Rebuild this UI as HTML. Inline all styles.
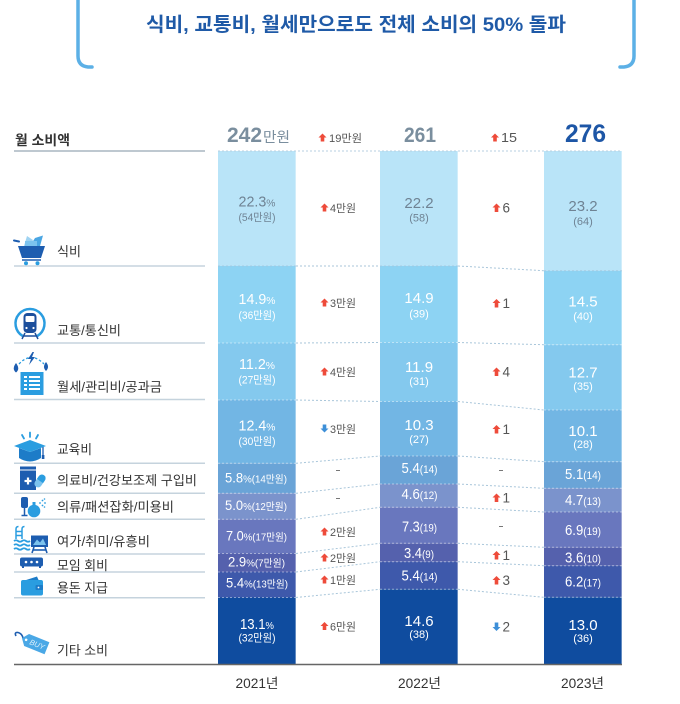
<!DOCTYPE html>
<html><head><meta charset="utf-8"><style>
html,body{margin:0;padding:0;background:#fff;}
svg{display:block;}
text{font-family:"Liberation Sans","Noto Sans CJK KR",sans-serif;}
.lbl{font-size:13px;fill:#333;}
.w{fill:#fff;}
.g{fill:#6f8394;}
.ind{font-size:11px;fill:#555;}
.ind2{font-size:13.5px;fill:#555;}
</style></head><body>
<svg width="680" height="704" viewBox="0 0 680 704" xmlns="http://www.w3.org/2000/svg">
<!-- bracket -->
<path d="M78,-2 V56 Q78,66 88,67 L92,67" fill="none" stroke="#5cb0e6" stroke-width="3.5" stroke-linecap="round"/>
<path d="M634,-2 V56 Q634,66 624,67 L620,67" fill="none" stroke="#5cb0e6" stroke-width="3.5" stroke-linecap="round"/>
<text x="356" y="31" text-anchor="middle" font-size="19.5" font-weight="bold" fill="#1f5aa7" textLength="420" lengthAdjust="spacingAndGlyphs">식비, 교통비, 월세만으로도 전체 소비의 50% 돌파</text>

<!-- header row -->
<text x="15" y="145" font-size="13.5" font-weight="bold" fill="#333" textLength="55" lengthAdjust="spacingAndGlyphs">월 소비액</text>
<text x="227" y="142" font-size="21" font-weight="bold" fill="#7a8e9e" textLength="35" lengthAdjust="spacingAndGlyphs">242</text>
<text x="263" y="142" font-size="14" fill="#7a8e9e" textLength="27" lengthAdjust="spacingAndGlyphs">만원</text>
<polygon points="322.5,133.5 326.5,137.5 324.3,137.5 324.3,141.5 320.7,141.5 320.7,137.5 318.5,137.5" fill="#ee4b3a"/>
<text x="329" y="142" font-size="11" fill="#555" textLength="33" lengthAdjust="spacingAndGlyphs">19만원</text>
<text x="420" y="142" text-anchor="middle" font-size="21" font-weight="bold" fill="#7a8e9e" textLength="32" lengthAdjust="spacingAndGlyphs">261</text>
<polygon points="495,133.5 499,137.5 496.8,137.5 496.8,141.5 493.2,141.5 493.2,137.5 491,137.5" fill="#ee4b3a"/>
<text x="501" y="142" font-size="12.5" fill="#555" textLength="16" lengthAdjust="spacingAndGlyphs">15</text>
<text x="585.5" y="142" text-anchor="middle" font-size="25" font-weight="bold" fill="#1d56a6" textLength="41" lengthAdjust="spacingAndGlyphs">276</text>

<!-- left separators -->
<g stroke="#c5d3dd" stroke-width="1.5">
<line x1="14" y1="151" x2="205" y2="151" stroke="#a9b6c0"/>
<line x1="14" y1="266" x2="205" y2="266"/>
<line x1="14" y1="343" x2="205" y2="343"/>
<line x1="14" y1="399.5" x2="205" y2="399.5"/>
<line x1="14" y1="463.3" x2="205" y2="463.3"/>
<line x1="14" y1="493.3" x2="205" y2="493.3"/>
<line x1="14" y1="519.2" x2="205" y2="519.2"/>
<line x1="14" y1="554" x2="205" y2="554"/>
<line x1="14" y1="572" x2="205" y2="572"/>
<line x1="14" y1="597.7" x2="205" y2="597.7"/>
</g>

<!-- column 1 -->
<g>
<rect x="218" y="151" width="78" height="115" fill="#b9e4f8"/>
<rect x="218" y="266" width="78" height="77" fill="#8dd3f3"/>
<rect x="218" y="343" width="78" height="57" fill="#84c9ee"/>
<rect x="218" y="400" width="78" height="63.3" fill="#72b6e4"/>
<rect x="218" y="463.3" width="78" height="30" fill="#6aa4d7"/>
<rect x="218" y="493.3" width="78" height="26" fill="#7b93cc"/>
<rect x="218" y="519.3" width="78" height="34.2" fill="#6977be"/>
<rect x="218" y="553.5" width="78" height="18.5" fill="#5561ad"/>
<rect x="218" y="572" width="78" height="25.5" fill="#3e59ab"/>
<rect x="218" y="597.5" width="78" height="66.5" fill="#0f4c9f"/>
</g>
<!-- column 2 -->
<g>
<rect x="380" y="151" width="78" height="115" fill="#b9e4f8"/>
<rect x="380" y="266" width="78" height="76.5" fill="#8dd3f3"/>
<rect x="380" y="342.5" width="78" height="59" fill="#84c9ee"/>
<rect x="380" y="401.5" width="78" height="54.5" fill="#72b6e4"/>
<rect x="380" y="456" width="78" height="28" fill="#6aa4d7"/>
<rect x="380" y="484" width="78" height="23.3" fill="#7b93cc"/>
<rect x="380" y="507.3" width="78" height="36" fill="#6977be"/>
<rect x="380" y="543.3" width="78" height="18.4" fill="#5561ad"/>
<rect x="380" y="561.7" width="78" height="27.6" fill="#3e59ab"/>
<rect x="380" y="589.3" width="78" height="74.7" fill="#0f4c9f"/>
</g>
<!-- column 3 -->
<g>
<rect x="544" y="151" width="78" height="119.7" fill="#b9e4f8"/>
<rect x="544" y="270.7" width="78" height="74" fill="#8dd3f3"/>
<rect x="544" y="344.7" width="78" height="65.3" fill="#84c9ee"/>
<rect x="544" y="410" width="78" height="51.7" fill="#72b6e4"/>
<rect x="544" y="461.7" width="78" height="26.6" fill="#6aa4d7"/>
<rect x="544" y="488.3" width="78" height="23.7" fill="#7b93cc"/>
<rect x="544" y="512" width="78" height="35.3" fill="#6977be"/>
<rect x="544" y="547.3" width="78" height="18.4" fill="#5561ad"/>
<rect x="544" y="565.7" width="78" height="31.6" fill="#3e59ab"/>
<rect x="544" y="597.3" width="78" height="66.7" fill="#0f4c9f"/>
</g>
<!-- column edge highlights -->
<g stroke="rgba(255,255,255,0.35)" stroke-width="1">
<line x1="295.5" y1="151" x2="295.5" y2="664"/>
<line x1="457.5" y1="151" x2="457.5" y2="664"/>
<line x1="621.5" y1="151" x2="621.5" y2="664"/>
</g>

<!-- dotted lines inside columns -->
<g stroke="rgba(255,255,255,0.45)" stroke-width="1" stroke-dasharray="2,2">
<line x1="218" y1="343" x2="296" y2="343"/><line x1="218" y1="400" x2="296" y2="400"/>
<line x1="218" y1="463.3" x2="296" y2="463.3"/><line x1="218" y1="493.3" x2="296" y2="493.3"/>
<line x1="218" y1="519.3" x2="296" y2="519.3"/><line x1="218" y1="553.5" x2="296" y2="553.5"/>
<line x1="218" y1="572" x2="296" y2="572"/><line x1="218" y1="597.5" x2="296" y2="597.5"/>
<line x1="380" y1="342.5" x2="458" y2="342.5"/><line x1="380" y1="401.5" x2="458" y2="401.5"/>
<line x1="380" y1="456" x2="458" y2="456"/><line x1="380" y1="484" x2="458" y2="484"/>
<line x1="380" y1="507.3" x2="458" y2="507.3"/><line x1="380" y1="543.3" x2="458" y2="543.3"/>
<line x1="380" y1="561.7" x2="458" y2="561.7"/><line x1="380" y1="589.3" x2="458" y2="589.3"/>
<line x1="544" y1="344.7" x2="622" y2="344.7"/><line x1="544" y1="410" x2="622" y2="410"/>
<line x1="544" y1="461.7" x2="622" y2="461.7"/><line x1="544" y1="488.3" x2="622" y2="488.3"/>
<line x1="544" y1="512" x2="622" y2="512"/><line x1="544" y1="547.3" x2="622" y2="547.3"/>
<line x1="544" y1="565.7" x2="622" y2="565.7"/><line x1="544" y1="597.3" x2="622" y2="597.3"/>
</g>
<g stroke="#b7cfe0" stroke-width="1" stroke-dasharray="2,2">
<line x1="218" y1="151" x2="622" y2="151"/>
<line x1="218" y1="266" x2="296" y2="266" stroke="rgba(160,195,220,0.7)"/>
<line x1="380" y1="266" x2="458" y2="266" stroke="rgba(160,195,220,0.7)"/>
<line x1="544" y1="270.7" x2="622" y2="270.7" stroke="rgba(160,195,220,0.7)"/>
</g>
<!-- connectors -->
<g stroke="#a9c6da" stroke-width="1" stroke-dasharray="2,2">
<line x1="296" y1="266" x2="380" y2="266"/>
<line x1="296" y1="343" x2="380" y2="342.5"/>
<line x1="296" y1="400" x2="380" y2="401.5"/>
<line x1="296" y1="463.3" x2="380" y2="456"/>
<line x1="296" y1="493.3" x2="380" y2="484"/>
<line x1="296" y1="519.3" x2="380" y2="507.3"/>
<line x1="296" y1="553.5" x2="380" y2="543.3"/>
<line x1="296" y1="572" x2="380" y2="561.7"/>
<line x1="296" y1="597.5" x2="380" y2="589.3"/>
<line x1="458" y1="266" x2="544" y2="270.7"/>
<line x1="458" y1="342.5" x2="544" y2="344.7"/>
<line x1="458" y1="401.5" x2="544" y2="410"/>
<line x1="458" y1="456" x2="544" y2="461.7"/>
<line x1="458" y1="484" x2="544" y2="488.3"/>
<line x1="458" y1="507.3" x2="544" y2="512"/>
<line x1="458" y1="543.3" x2="544" y2="547.3"/>
<line x1="458" y1="561.7" x2="544" y2="565.7"/>
<line x1="458" y1="589.3" x2="544" y2="597.3"/>
</g>

<!-- bottom axis line -->
<line x1="14" y1="664.5" x2="622" y2="664.5" stroke="#666" stroke-width="1.5"/>

<!-- column 1 texts -->
<g text-anchor="middle">
<text x="257" y="206.7" font-size="14.5" class="g" textLength="37" lengthAdjust="spacingAndGlyphs">22.3<tspan font-size="10.5">%</tspan></text>
<text x="257" y="221" font-size="11" class="g" textLength="37" lengthAdjust="spacingAndGlyphs">(54만원)</text>
<text x="257" y="304" font-size="14.5" class="w" textLength="37" lengthAdjust="spacingAndGlyphs">14.9<tspan font-size="10.5">%</tspan></text>
<text x="257" y="319" font-size="11" class="w" textLength="37" lengthAdjust="spacingAndGlyphs">(36만원)</text>
<text x="257" y="369" font-size="14.5" class="w" textLength="36" lengthAdjust="spacingAndGlyphs">11.2<tspan font-size="10.5">%</tspan></text>
<text x="257" y="383.5" font-size="11" class="w" textLength="37" lengthAdjust="spacingAndGlyphs">(27만원)</text>
<text x="257" y="430.5" font-size="14.5" class="w" textLength="37" lengthAdjust="spacingAndGlyphs">12.4<tspan font-size="10.5">%</tspan></text>
<text x="257" y="445" font-size="11" class="w" textLength="37" lengthAdjust="spacingAndGlyphs">(30만원)</text>
<text x="256" y="482.5" font-size="14" class="w" textLength="62" lengthAdjust="spacingAndGlyphs">5.8<tspan font-size="10.5">%(14만원)</tspan></text>
<text x="256" y="510" font-size="14" class="w" textLength="62" lengthAdjust="spacingAndGlyphs">5.0<tspan font-size="10.5">%(12만원)</tspan></text>
<text x="256.5" y="540.5" font-size="14" class="w" textLength="61" lengthAdjust="spacingAndGlyphs">7.0<tspan font-size="10.5">%(17만원)</tspan></text>
<text x="256.5" y="566.5" font-size="14" class="w" textLength="57" lengthAdjust="spacingAndGlyphs">2.9<tspan font-size="10.5">%(7만원)</tspan></text>
<text x="257" y="587.5" font-size="14" class="w" textLength="62" lengthAdjust="spacingAndGlyphs">5.4<tspan font-size="10.5">%(13만원)</tspan></text>
<text x="257" y="629" font-size="14.5" class="w" textLength="34" lengthAdjust="spacingAndGlyphs">13.1<tspan font-size="10.5">%</tspan></text>
<text x="257" y="641.5" font-size="11" class="w" textLength="37" lengthAdjust="spacingAndGlyphs">(32만원)</text>
</g>

<!-- column 2 texts -->
<g text-anchor="middle">
<text x="419" y="208" font-size="15" class="g">22.2</text>
<text x="419" y="221.5" font-size="11" class="g">(58)</text>
<text x="419" y="303" font-size="15" class="w">14.9</text>
<text x="419" y="317.5" font-size="11" class="w">(39)</text>
<text x="419" y="372" font-size="15" class="w">11.9</text>
<text x="419" y="385" font-size="11" class="w">(31)</text>
<text x="419" y="430" font-size="15" class="w">10.3</text>
<text x="419" y="443" font-size="11" class="w">(27)</text>
<text x="419.5" y="473" font-size="14.5" class="w" textLength="36" lengthAdjust="spacingAndGlyphs">5.4<tspan font-size="11">(14)</tspan></text>
<text x="419.5" y="499" font-size="14.5" class="w" textLength="36" lengthAdjust="spacingAndGlyphs">4.6<tspan font-size="11">(12)</tspan></text>
<text x="419.5" y="531.5" font-size="14.5" class="w" textLength="35" lengthAdjust="spacingAndGlyphs">7.3<tspan font-size="11">(19)</tspan></text>
<text x="419" y="558" font-size="14.5" class="w" textLength="30" lengthAdjust="spacingAndGlyphs">3.4<tspan font-size="11">(9)</tspan></text>
<text x="419.5" y="580.5" font-size="14.5" class="w" textLength="36" lengthAdjust="spacingAndGlyphs">5.4<tspan font-size="11">(14)</tspan></text>
<text x="419" y="626" font-size="15" class="w">14.6</text>
<text x="419" y="638" font-size="11" class="w">(38)</text>
</g>

<!-- column 3 texts -->
<g text-anchor="middle">
<text x="583" y="211" font-size="15" class="g">23.2</text>
<text x="583" y="225" font-size="11" class="g">(64)</text>
<text x="583" y="306.5" font-size="15" class="w">14.5</text>
<text x="583" y="320" font-size="11" class="w">(40)</text>
<text x="583" y="377.5" font-size="15" class="w">12.7</text>
<text x="583" y="390" font-size="11" class="w">(35)</text>
<text x="583" y="436" font-size="15" class="w">10.1</text>
<text x="583" y="448" font-size="11" class="w">(28)</text>
<text x="583" y="479" font-size="14.5" class="w" textLength="36" lengthAdjust="spacingAndGlyphs">5.1<tspan font-size="11">(14)</tspan></text>
<text x="583" y="505" font-size="14.5" class="w" textLength="36" lengthAdjust="spacingAndGlyphs">4.7<tspan font-size="11">(13)</tspan></text>
<text x="583" y="535" font-size="14.5" class="w" textLength="36" lengthAdjust="spacingAndGlyphs">6.9<tspan font-size="11">(19)</tspan></text>
<text x="583" y="562.5" font-size="14.5" class="w" textLength="36" lengthAdjust="spacingAndGlyphs">3.6<tspan font-size="11">(10)</tspan></text>
<text x="583" y="586.5" font-size="14.5" class="w" textLength="36" lengthAdjust="spacingAndGlyphs">6.2<tspan font-size="11">(17)</tspan></text>
<text x="583" y="630" font-size="15" class="w">13.0</text>
<text x="583" y="642" font-size="11" class="w">(36)</text>
</g>

<!-- gap 1 indicators -->
<g fill="#ee4b3a">
<polygon points="324.5,203.5 328.5,207.5 326.3,207.5 326.3,211.5 322.7,211.5 322.7,207.5 320.5,207.5"/>
<polygon points="324.5,298.5 328.5,302.5 326.3,302.5 326.3,306.5 322.7,306.5 322.7,302.5 320.5,302.5"/>
<polygon points="324.5,367.5 328.5,371.5 326.3,371.5 326.3,375.5 322.7,375.5 322.7,371.5 320.5,371.5"/>
<polygon points="324.5,527.5 328.5,531.5 326.3,531.5 326.3,535.5 322.7,535.5 322.7,531.5 320.5,531.5"/>
<polygon points="324.5,553.5 328.5,557.5 326.3,557.5 326.3,561.5 322.7,561.5 322.7,557.5 320.5,557.5"/>
<polygon points="324.5,575.5 328.5,579.5 326.3,579.5 326.3,583.5 322.7,583.5 322.7,579.5 320.5,579.5"/>
<polygon points="324.5,622 328.5,626 326.3,626 326.3,630 322.7,630 322.7,626 320.5,626"/>
</g>
<polygon points="324.5,432.5 328.5,428.5 326.3,428.5 326.3,424.5 322.7,424.5 322.7,428.5 320.5,428.5" fill="#3d8fd8"/>
<g class="ind">
<text x="330" y="212" textLength="26" lengthAdjust="spacingAndGlyphs">4만원</text>
<text x="330" y="307" textLength="26" lengthAdjust="spacingAndGlyphs">3만원</text>
<text x="330" y="376" textLength="26" lengthAdjust="spacingAndGlyphs">4만원</text>
<text x="330" y="433" textLength="26" lengthAdjust="spacingAndGlyphs">3만원</text>
<text x="330" y="536" textLength="26" lengthAdjust="spacingAndGlyphs">2만원</text>
<text x="330" y="562" textLength="26" lengthAdjust="spacingAndGlyphs">2만원</text>
<text x="330" y="584" textLength="26" lengthAdjust="spacingAndGlyphs">1만원</text>
<text x="330" y="630.5" textLength="26" lengthAdjust="spacingAndGlyphs">6만원</text>
</g>
<g stroke="#777" stroke-width="1">
<line x1="336" y1="470.5" x2="340" y2="470.5"/>
<line x1="336" y1="498.5" x2="340" y2="498.5"/>
<line x1="499" y1="470.5" x2="503" y2="470.5"/>
<line x1="499" y1="526.5" x2="503" y2="526.5"/>
</g>

<!-- gap 2 indicators -->
<g fill="#ee4b3a">
<polygon points="496.5,203.5 500.5,207.5 498.3,207.5 498.3,212 494.7,212 494.7,207.5 492.5,207.5"/>
<polygon points="496.5,299 500.5,303 498.3,303 498.3,307.5 494.7,307.5 494.7,303 492.5,303"/>
<polygon points="496.5,367.5 500.5,371.5 498.3,371.5 498.3,376 494.7,376 494.7,371.5 492.5,371.5"/>
<polygon points="496.5,425 500.5,429 498.3,429 498.3,433.5 494.7,433.5 494.7,429 492.5,429"/>
<polygon points="496.5,493.5 500.5,497.5 498.3,497.5 498.3,502 494.7,502 494.7,497.5 492.5,497.5"/>
<polygon points="496.5,551 500.5,555 498.3,555 498.3,559.5 494.7,559.5 494.7,555 492.5,555"/>
<polygon points="496.5,576 500.5,580 498.3,580 498.3,584.5 494.7,584.5 494.7,580 492.5,580"/>
</g>
<polygon points="496.5,631 500.5,627 498.3,627 498.3,622.5 494.7,622.5 494.7,627 492.5,627" fill="#3d8fd8"/>
<g class="ind2">
<text x="502.5" y="212.5">6</text>
<text x="502.5" y="308">1</text>
<text x="502.5" y="376.5">4</text>
<text x="502.5" y="434">1</text>
<text x="502.5" y="502.5">1</text>
<text x="502.5" y="560">1</text>
<text x="502.5" y="585">3</text>
<text x="502.5" y="631.5">2</text>
</g>

<!-- left labels -->
<text x="57" y="256" class="lbl" textLength="24" lengthAdjust="spacingAndGlyphs">식비</text>
<text x="57" y="335" class="lbl" textLength="64" lengthAdjust="spacingAndGlyphs">교통/통신비</text>
<text x="57" y="391.5" class="lbl" textLength="105" lengthAdjust="spacingAndGlyphs">월세/관리비/공과금</text>
<text x="57" y="454" class="lbl" textLength="35" lengthAdjust="spacingAndGlyphs">교육비</text>
<text x="57" y="485" class="lbl" textLength="140" lengthAdjust="spacingAndGlyphs">의료비/건강보조제 구입비</text>
<text x="57" y="511.5" class="lbl" textLength="117" lengthAdjust="spacingAndGlyphs">의류/패션잡화/미용비</text>
<text x="57" y="546" class="lbl" textLength="93" lengthAdjust="spacingAndGlyphs">여가/취미/유흥비</text>
<text x="57" y="570" class="lbl" textLength="51" lengthAdjust="spacingAndGlyphs">모임 회비</text>
<text x="57" y="592.5" class="lbl" textLength="51" lengthAdjust="spacingAndGlyphs">용돈 지급</text>
<text x="57" y="655" class="lbl" textLength="51" lengthAdjust="spacingAndGlyphs">기타 소비</text>

<!-- years -->
<g font-size="13.5" fill="#333" text-anchor="middle">
<text x="257" y="688" textLength="43" lengthAdjust="spacingAndGlyphs">2021년</text>
<text x="419.5" y="688" textLength="43" lengthAdjust="spacingAndGlyphs">2022년</text>
<text x="582.5" y="688" textLength="43" lengthAdjust="spacingAndGlyphs">2023년</text>
</g>

<!-- icons -->
<!-- cart -->
<g>
<line x1="14" y1="240.5" x2="19" y2="241.5" stroke="#1d5db0" stroke-width="2" stroke-linecap="round"/>
<polygon points="24,246 27,236 33,240 31,246" fill="#9fd3f2"/>
<polygon points="30,246 35,238 43,235.5 40,246" fill="#4aa6e3"/>
<rect x="25" y="241" width="12" height="5" fill="#7cc3ee"/>
<polygon points="18,246 45,246 41,258 22,258" fill="#1d5db0"/>
<line x1="22" y1="260" x2="41" y2="260" stroke="#1d5db0" stroke-width="1.5"/>
<circle cx="26" cy="263.3" r="2" fill="#2a9de0"/>
<circle cx="37.5" cy="263.3" r="2" fill="#2a9de0"/>
</g>
<!-- train -->
<g>
<path d="M22.75,336.06 A14.5,14.5 0 1 1 37.25,336.06" fill="none" stroke="#2a9de0" stroke-width="2.5"/>
<rect x="23.5" y="313" width="13" height="20" rx="4" fill="#1d4f9c"/>
<rect x="25.5" y="316" width="9" height="6" rx="1" fill="#fff"/>
<circle cx="26.5" cy="328" r="1.1" fill="#fff"/>
<circle cx="33.5" cy="328" r="1.1" fill="#fff"/>
<g stroke="#1d4f9c" stroke-width="1.5">
<line x1="25" y1="333" x2="22" y2="339"/><line x1="35" y1="333" x2="38" y2="339"/>
<line x1="23.5" y1="336" x2="36.5" y2="336"/>
</g>
</g>
<!-- bill -->
<g>
<path d="M19,364 Q31,351 44,364" fill="none" stroke="#2a9de0" stroke-width="1.3" stroke-dasharray="2.5,2"/>
<path d="M16,363 Q20.5,369 16,372.5 Q11.5,369 16,363 Z" fill="#1d5db0"/>
<polygon points="32.5,352 28,359 31,359 29,365 35,357 32,357 34,352" fill="#1d5db0"/>
<path d="M46,362 Q50,367 46,371 Q42,367 46,362 Z" fill="#1d5db0"/>
<rect x="20.5" y="372" width="23" height="23" fill="#2a9de0"/>
<g fill="#fff">
<rect x="24" y="376" width="3" height="2"/><rect x="29" y="376" width="11" height="2"/>
<rect x="24" y="380" width="3" height="2"/><rect x="29" y="380" width="11" height="2"/>
<rect x="24" y="384" width="3" height="2"/><rect x="29" y="384" width="11" height="2"/>
<rect x="24" y="388" width="3" height="2"/><rect x="29" y="388" width="11" height="2"/>
</g>
</g>
<!-- grad cap -->
<g>
<g stroke="#2a9de0" stroke-width="1.8" stroke-linecap="round">
<line x1="22" y1="435" x2="24" y2="438.5"/><line x1="30" y1="432.5" x2="30" y2="437"/><line x1="38" y1="435" x2="36" y2="438.5"/>
</g>
<path d="M19,448 L19,458 Q30,465 41,458 L41,448 L30,452 Z" fill="#1d7cc8"/>
<polygon points="14,446 30,440 46,446 30,452" fill="#2a9de0"/>
<line x1="43" y1="447" x2="43" y2="456" stroke="#1d5db0" stroke-width="1.3"/>
<rect x="41.8" y="455" width="2.6" height="4" fill="#1d5db0"/>
</g>
<!-- medicine -->
<g>
<rect x="20" y="466.5" width="16" height="3" fill="#1d5db0"/>
<rect x="20" y="470.5" width="16" height="19.5" fill="#1d5db0"/>
<rect x="24.5" y="479.9" width="7" height="2.2" fill="#fff"/>
<rect x="26.9" y="477.5" width="2.2" height="7" fill="#fff"/>
<g transform="rotate(-55 40 481)">
<rect x="33" y="477.3" width="14" height="7.4" rx="3.7" fill="#7cc3ee"/>
<path d="M40,477.3 H43.3 A3.7,3.7 0 0 1 43.3,484.7 H40 Z" fill="#2a9de0"/>
</g>
</g>
<!-- perfume -->
<g>
<rect x="21" y="497" width="7" height="11" rx="2" fill="#1d5db0"/>
<line x1="24.5" y1="508" x2="24.5" y2="515" stroke="#1d5db0" stroke-width="1.5"/>
<line x1="21.5" y1="515.5" x2="27.5" y2="515.5" stroke="#1d5db0" stroke-width="1.5"/>
<rect x="32.5" y="502" width="3" height="4" fill="#2a9de0"/>
<circle cx="34" cy="511" r="6.3" fill="#2a9de0"/>
<g fill="#2a9de0"><circle cx="40" cy="503" r="0.9"/><circle cx="42.5" cy="500.5" r="0.9"/><circle cx="42.5" cy="505.5" r="0.9"/><circle cx="45" cy="503" r="0.9"/><circle cx="44.5" cy="499" r="0.8"/><circle cx="44.5" cy="507" r="0.8"/></g>
</g>
<!-- leisure -->
<g>
<g stroke="#2a9de0" stroke-width="1.5" fill="none">
<path d="M16,539 V529 Q16,526.5 18.5,526.5"/>
<path d="M22,539 V529 Q22,526.5 24.5,526.5"/>
<line x1="16" y1="531.5" x2="22" y2="531.5"/><line x1="16" y1="535.5" x2="22" y2="535.5"/>
</g>
<g stroke="#2a9de0" stroke-width="1.8" fill="none">
<path d="M14,541 q2,-1.5 4,0 t4,0 t4,0 t4,0"/>
<path d="M14,545 q2,-1.5 4,0 t4,0 t4,0 t4,0"/>
<path d="M14,549 q2,-1.5 4,0 t4,0 t4,0 t4,0"/>
</g>
<rect x="31" y="535.5" width="17" height="11.5" fill="#1d5db0"/>
<polygon points="33,545 37,539.5 40,542.5 43,538.5 46,545" fill="#7cc3ee"/>
<g stroke="#1d5db0" stroke-width="1.6"><line x1="34" y1="547" x2="32" y2="553"/><line x1="45" y1="547" x2="47" y2="553"/><line x1="33" y1="550" x2="46" y2="550"/></g>
</g>
<!-- group -->
<g>
<rect x="20" y="557.5" width="23" height="9" rx="2" fill="#1d5db0"/>
<circle cx="26" cy="562" r="1.3" fill="#fff"/><circle cx="31.5" cy="562" r="1.3" fill="#fff"/><circle cx="37" cy="562" r="1.3" fill="#fff"/>
<rect x="22" y="566" width="2" height="2" fill="#1d5db0"/><rect x="39" y="566" width="2" height="2" fill="#1d5db0"/>
</g>
<!-- wallet -->
<g>
<polygon points="23,581 37,576.5 39,581" fill="#1d7cc8"/>
<rect x="21" y="580" width="22" height="15.5" rx="2" fill="#2a9de0"/>
<rect x="35.5" y="585" width="7.5" height="5" rx="1" fill="#1d7cc8"/>
<circle cx="38.5" cy="587.5" r="0.9" fill="#fff"/>
</g>
<!-- BUY tag -->
<g>
<path d="M16,636 Q14,632 18,632.5 Q22,633.5 23,638" fill="none" stroke="#1d5db0" stroke-width="1.6"/>
<g transform="rotate(22 34 643)">
<path d="M21,643 L26,636.5 H48 V649.5 H26 Z" fill="#4aa8e6"/>
<circle cx="25.5" cy="643" r="1.3" fill="#fff"/>
<text x="37.5" y="645.8" font-size="7.5" font-style="italic" fill="#dff1fc" text-anchor="middle">BUY</text>
</g>
</g>
</svg>
</body></html>
